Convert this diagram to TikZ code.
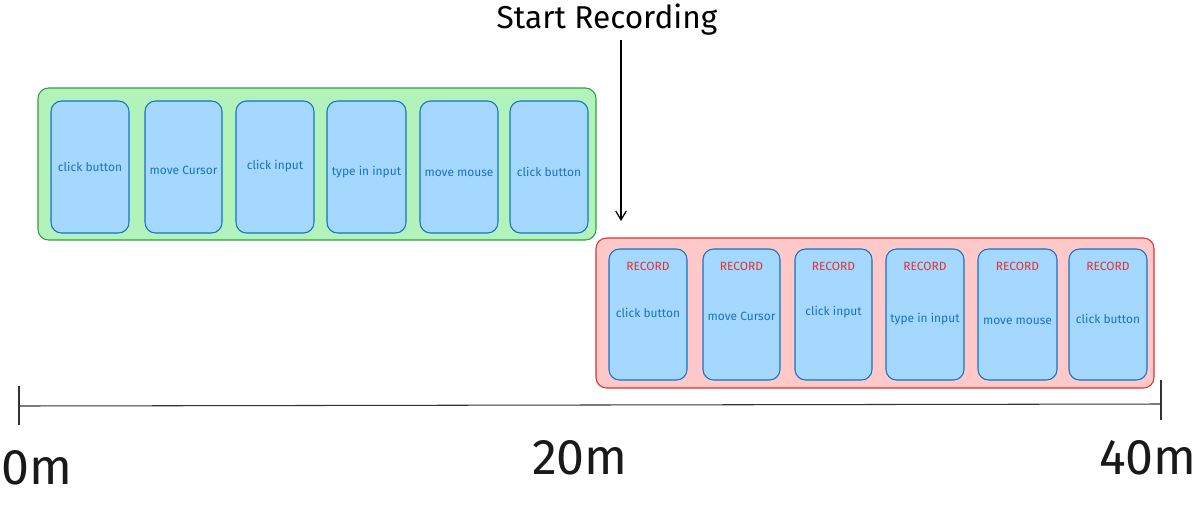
\documentclass[tikz,border=0pt]{standalone}
\usetikzlibrary{arrows.meta}
\usepackage{fontspec}
\setmainfont{Fira Sans}
\definecolor{gfill}{HTML}{B2F2BB}
\definecolor{gline}{HTML}{2F9E44}
\definecolor{bfill}{HTML}{A5D8FF}
\definecolor{bline}{HTML}{1971C2}
\definecolor{rfill}{HTML}{FFC9C9}
\definecolor{rline}{HTML}{E03131}
\begin{document}
\begin{tikzpicture}[x=0.02cm,y=-0.02cm,
  container/.style={draw, rounded corners=6pt, line width=0.6pt},
  card/.style={draw=bline, fill=bfill, rounded corners=6pt, line width=0.6pt},
  cardtext/.style={text=bline, font=\fontsize{6.8}{8}\selectfont},
  rectext/.style={text=rline, font=\fontsize{6.8}{8}\selectfont},
  axis/.style={draw=black!80, line width=0.6pt},
  bigl/.style={font=\fontsize{28.5}{32}\selectfont, text=black!90}]
\useasboundingbox (0,0) rectangle (1200,508);
% green container
\draw[container, draw=gline, fill=gfill] (38,88) rectangle (596,240);
\foreach \a/\b/\t/\y [count=\i] in {51/129/click button/167,145/222/move Cursor/170,236/314/click input/166,327/406/type in input/172,420/498/move mouse/173,510/588/click button/172}{
  \draw[card] (\a,101) rectangle (\b,233);
  \node[cardtext] (g\i) at ({(\a+\b)/2},\y) {\t};
}
% red container
\draw[container, draw=rline, fill=rfill] (596,238) rectangle (1154,388);
\foreach \a/\b/\t/\y [count=\i] in {609/687/click button/313,703/780/move Cursor/316,795/872/click input/312,886/964/type in input/319,978/1057/move mouse/321,1069/1147/click button/319}{
  \draw[card] (\a,249) rectangle (\b,380);
  \node[rectext] (r\i) at ({(\a+\b)/2},266) {RECORD};
  \node[cardtext] (t\i) at ({(\a+\b)/2},\y) {\t};
}
% start recording
\node[font=\fontsize{18}{21}\selectfont] (sr) at (607,20) {Start Recording};
\coordinate (as) at (621,40);
\coordinate (ae) at (621,221);
\draw[-{Straight Barb[length=5pt,width=6pt]}, line width=0.7pt] (as) -- (ae);
% timeline
\coordinate (l0) at (19,406);
\coordinate (l1) at (1160,404);
\draw[axis] (l0) -- (l1);
\coordinate (t0a) at (19,386);
\coordinate (t0b) at (19,425);
\coordinate (t1a) at (1161,380);
\coordinate (t1b) at (1161,420);
\draw[axis] (t0a) -- (t0b);
\draw[axis] (t1a) -- (t1b);
\node[bigl] (m0) at (37,468) {0m};
\node[bigl] (m20) at (580,458) {20m};
\node[bigl] (m40) at (1148,458) {40m};
\end{tikzpicture}
\end{document}
